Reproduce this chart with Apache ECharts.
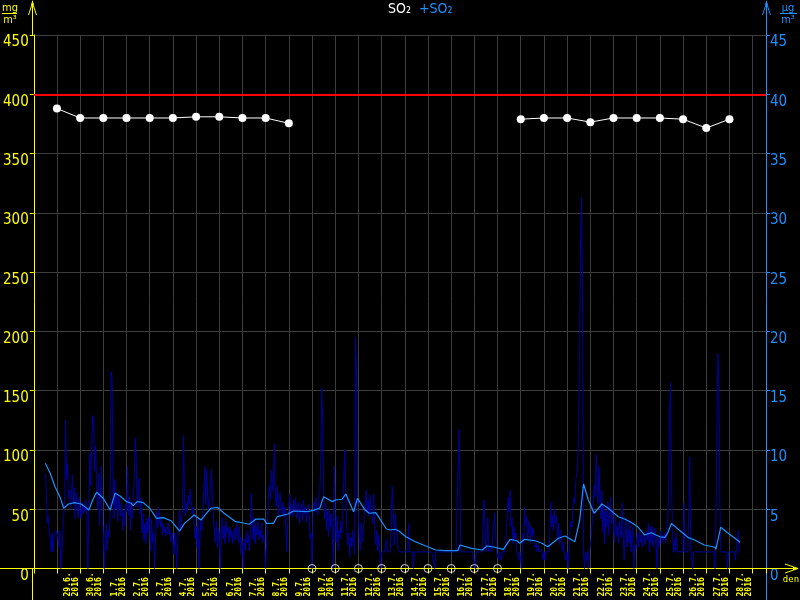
<!DOCTYPE html>
<html><head><meta charset="utf-8">
<script src="https://cdn.jsdelivr.net/npm/echarts@6/dist/echarts.min.js"></script>
<style>html,body{margin:0;padding:0;background:#000}#c{width:800px;height:600px}</style>
</head><body><div id="c"></div>
<script>
// ---- data ----
const dayLabels = ['29.6.','30.6.','1.7.','2.7.','3.7.','4.7.','5.7.','6.7.','7.7.','8.7.','9.7.','10.7.','11.7.','12.7.','13.7.','14.7.','15.7.','16.7.','17.7.','18.7.','19.7.','20.7.','21.7.','22.7.','23.7.','24.7.','25.7.','26.7.','27.7.','28.7.'];
const yearLabel = '2016';
const leftTicks = [0, 450, 50];   // min, max, step (mg/m3)
const rightTicks = [0, 45, 5];    // min, max, step (µg/m3)
const limitValue = 400;

// daily means (left axis), index = day tick; null = missing day
const dailyMeans = [388,380,380,380,380,380,381,381,380,380,375.5,
  null,null,null,null,null,null,null,null,null,
  379,380,380,376.5,380,380,380,379,371.5,379];
const missingDays = [11,12,13,14,15,16,17,18,19];

// hourly SO2 (right axis), first value at hour -12
const hourlyStart = -12;
const hourlySO2 = [
 8.0,6.5,3.8,4.5,3.0,2.5,1.4,3.0,1.4,2.8,3.0,3.2,
 3.0,2.6,1.8,3.2,0.0,1.4,2.8,4.5,6.2,12.5,7.5,8.8,6.0,6.6,5.0,6.2,7.9,5.5,6.8,4.2,6.4,5.0,4.3,6.0,
 5.0,4.2,5.6,4.6,5.2,4.8,5.8,4.4,0.0,4.8,9.7,7.0,10.5,12.9,12.7,8.2,10.3,7.5,5.0,8.0,3.6,6.2,8.6,4.0,
 3.0,0.0,2.2,3.8,1.5,3.2,2.6,4.5,16.6,16.0,9.0,4.2,7.5,5.0,6.4,4.0,6.1,5.2,4.4,5.5,3.2,4.8,3.6,5.4,
 4.8,8.6,4.5,6.0,3.2,5.6,4.2,6.4,7.2,11.0,9.5,5.2,6.8,7.6,4.6,6.0,3.0,4.6,2.4,3.8,2.1,4.2,3.0,4.5,
 3.6,1.5,4.2,2.2,3.0,0.0,2.5,4.8,3.4,5.2,4.0,3.5,4.4,2.8,3.8,3.0,3.5,2.7,3.2,3.8,2.9,3.3,2.2,3.0,
 2.5,1.2,3.0,1.8,0.0,2.2,3.8,4.9,3.2,4.4,5.0,11.2,6.0,4.4,5.5,4.8,6.2,5.4,6.7,5.8,4.6,5.2,3.8,2.5,
 3.5,1.8,4.2,0.0,2.6,4.0,3.2,5.0,6.5,8.6,5.4,8.3,6.0,4.8,5.6,7.0,8.4,5.6,4.2,3.0,2.2,4.0,1.8,3.4,
 3.0,0.0,2.8,4.3,2.5,3.6,2.1,4.0,3.0,3.4,2.2,3.5,2.6,3.2,2.1,2.8,3.4,2.4,3.8,2.9,2.2,3.5,1.2,2.6,
 2.0,0.0,2.5,1.6,3.2,2.2,2.8,1.5,3.0,6.3,3.8,2.4,4.3,2.1,3.5,2.8,4.0,2.4,3.2,2.6,3.8,2.2,2.8,1.6,
 0.0,2.2,4.0,6.2,7.0,5.8,8.3,6.5,7.2,10.5,6.0,5.2,6.9,4.4,5.8,6.4,5.0,4.6,5.6,4.4,5.2,3.0,1.4,4.2,
 5.2,6.2,4.5,5.4,4.4,5.8,4.8,6.0,4.2,5.0,5.6,3.8,4.8,5.4,4.0,5.8,4.6,5.2,3.9,4.8,5.4,4.2,2.5,3.0,
 0.0,4.4,5.6,4.8,6.0,5.0,4.5,5.8,6.4,9.0,15.2,12.7,6.5,4.2,5.5,3.2,4.8,2.7,5.0,3.5,4.6,3.0,0.0,8.6,
 4.0,2.2,4.4,1.5,3.2,2.5,4.0,3.0,5.5,8.0,10.0,6.5,3.2,2.0,3.0,1.0,2.6,1.8,3.2,2.4,1.2,19.5,17.0,6.0,
 4.4,2.5,1.5,3.8,2.2,3.0,4.4,5.6,6.6,4.8,5.8,4.4,6.2,5.0,4.6,3.8,6.3,3.0,2.0,3.2,1.5,2.8,1.8,0.0,
 1.4,1.4,1.4,1.4,1.4,2.5,1.4,1.4,1.4,1.4,4.0,7.0,5.5,2.0,4.6,3.5,3.2,1.8,1.4,1.4,1.4,1.4,1.4,1.4,
 1.4,1.4,1.4,1.4,3.8,1.4,1.4,1.4,1.4,0.0,1.4,1.4,1.4,1.4,1.4,1.4,1.4,1.4,1.4,1.4,1.4,1.4,1.4,1.4,
 1.4,1.4,1.4,1.4,1.4,1.4,1.4,0.0,1.4,1.4,1.4,1.4,1.4,1.4,1.4,1.4,1.4,1.4,1.4,1.4,1.4,1.4,1.4,1.4,
 1.4,1.4,1.4,1.4,1.4,1.4,1.4,1.4,11.7,7.5,1.4,1.4,1.4,1.4,1.4,1.4,1.4,1.4,1.4,1.4,1.4,1.4,1.4,1.4,
 1.4,0.0,1.4,1.4,1.4,1.4,1.4,1.4,1.4,3.5,5.8,3.0,1.4,2.2,4.3,1.4,1.4,2.0,1.4,1.4,1.4,4.7,3.2,1.4,
 1.4,0.7,1.4,1.4,0.7,1.4,1.4,1.4,1.4,3.2,4.5,6.0,4.8,6.6,3.5,4.3,2.1,3.5,2.5,3.0,1.4,1.4,0.7,1.4,
 1.4,0.0,3.0,2.2,5.2,3.6,4.4,2.5,3.2,4.0,2.1,3.6,2.8,3.4,2.2,1.8,2.1,1.4,2.0,1.4,1.4,1.6,1.4,0.7,
 1.4,0.7,1.4,1.4,1.4,1.4,2.8,5.6,3.5,4.5,3.2,5.0,3.8,4.4,2.5,3.8,2.1,3.2,2.6,1.4,2.2,1.4,1.4,0.7,
 1.4,0.0,1.4,3.2,4.0,3.5,5.0,6.0,5.5,7.5,8.0,9.0,12.0,19.5,28.0,31.3,21.5,1.4,0.0,1.4,0.7,1.4,0.0,1.4,
 1.4,2.5,4.0,5.5,7.0,6.0,9.6,7.6,5.5,8.6,6.0,4.2,6.6,3.0,5.2,2.1,4.8,3.5,5.6,2.8,4.5,6.0,3.8,5.0,
 3.5,2.2,4.3,2.8,3.6,2.1,4.0,3.2,2.6,5.5,3.0,0.7,2.5,4.3,1.8,3.2,2.2,4.0,1.4,2.8,3.5,0.0,2.0,1.6,
 2.4,3.0,1.8,3.2,2.2,2.8,1.8,3.0,2.5,2.0,3.2,2.4,3.8,1.4,3.5,2.2,3.6,1.8,2.6,3.4,2.0,0.0,2.6,1.8,
 2.6,3.2,2.1,2.8,2.4,3.0,2.2,3.2,4.0,6.0,13.0,15.7,8.0,3.2,1.4,2.5,1.4,3.0,1.4,1.4,1.4,1.4,1.4,1.4,
 1.4,5.5,1.4,1.4,1.4,1.4,1.4,9.4,1.4,1.4,0.0,1.4,1.4,1.4,1.4,1.4,1.4,1.4,1.4,1.4,1.4,1.4,1.4,1.4,
 1.4,1.4,1.4,1.4,1.4,1.4,1.4,1.4,1.4,0.0,4.0,11.7,18.1,15.7,6.0,1.4,1.4,1.4,1.4,1.4,1.4,1.4,0.0,1.4,
 1.4,1.4,1.4,1.4,1.4,1.4,0.7,1.4,1.4,3.2,1.4,1.4
];

// smoothed SO2 (right axis)
const avgHours = [-12,-7,-2,3,7,12,18,25,29,33,37,41,48,55,60,65,72,77,79,83,89,96,103,110,118,127,132,142,149,159,166,173,185,192,199,206,214,217,224,228,239,245,259,266,272,276,285,288,295,299,307,311,319,323,330,341,345,350,354,361,371,385,392,402,415,417,429,440,445,453,462,469,476,479,484,495,502,508,519,526,536,541,545,550,556,564,570,576,581,588,595,601,608,615,624,629,632,636,643,653,660,670,681,682,687,694,705,707];
const avgValues = [8.87,8.03,6.9,6.06,5.08,5.44,5.55,5.44,5.2,4.93,5.78,6.43,5.92,4.93,6.34,6.14,5.64,5.5,5.3,5.64,5.58,5.08,4.23,4.29,4.03,3.16,3.81,4.51,4.09,5.08,5.16,4.66,3.95,3.86,3.73,4.17,4.17,3.81,3.81,4.37,4.6,4.85,4.79,4.93,5.08,6.06,5.64,5.78,5.84,6.28,4.79,5.92,4.93,4.66,4.71,3.33,3.25,3.31,3.16,2.68,2.26,1.79,1.56,1.5,1.5,1.98,1.7,1.56,1.9,1.79,1.62,2.46,2.34,2.13,2.46,2.34,2.13,1.84,2.55,2.74,2.26,4.09,7.13,5.78,4.66,5.44,5.13,4.71,4.37,4.15,3.86,3.53,2.83,3.02,2.68,2.63,2.97,3.81,3.31,2.63,2.4,1.98,1.79,1.62,3.48,3.02,2.34,2.18];

// ---- chart ----
const YEL = '#ffff00', BLUE = '#1e90ff', GRID = '#3c3c3c';
const NARROW = "'Liberation Sans Narrow','DejaVu Sans Condensed',sans-serif";
const HPD = 24;
const xMin = -HPD, xMax = 30.576 * HPD;

const darkData = hourlySO2.map((v, k) => [hourlyStart + k, v]);
const avgData = avgHours.slice(0, Math.min(avgHours.length, avgValues.length)).map((h, k) => [h, avgValues[k]]);
const dailyData = dailyMeans.map((v, i) => [i * HPD, v == null ? '-' : v]);
const missData = missingDays.map(i => [i * HPD, 0]);

const chart = echarts.init(document.getElementById('c'), null, {renderer: 'canvas'});
const ax = 32.5, bx = 766.5, y0 = 568.5;
chart.setOption({
  backgroundColor: '#000',
  animation: false,
  grid: {left: 32, right: 34, top: 35, bottom: 31.5},
  xAxis: {
    type: 'value', min: xMin, max: xMax, interval: HPD,
    axisLine: {show: true, onZero: false, lineStyle: {color: YEL, width: 1}},
    axisTick: {show: true, length: 5, lineStyle: {color: YEL}},
    splitLine: {show: true, lineStyle: {color: GRID, width: 1}},
    axisLabel: {
      rotate: 90, align: 'left', verticalAlign: 'bottom', margin: 28,
      fontSize: 8, lineHeight: 8, fontWeight: 'bold', color: YEL,
      fontFamily: 'DejaVu Sans Mono', showMinLabel: true, showMaxLabel: true,
      formatter: v => {
        const i = Math.round(v / HPD);
        if (Math.abs(v - i * HPD) > 0.01) return '';
        return (i >= 1 && i <= dayLabels.length) ? dayLabels[i - 1] + '\n' + yearLabel : '';
      }
    }
  },
  yAxis: [
    {type: 'value', position: 'left', min: leftTicks[0], max: leftTicks[1], interval: leftTicks[2],
     axisLine: {show: true, onZero: false, lineStyle: {color: YEL}},
     axisTick: {show: true, length: 4, lineStyle: {color: YEL}},
     axisLabel: {color: YEL, fontSize: 15, margin: 5, verticalAlign: 'top', fontFamily: NARROW},
     splitLine: {show: true, lineStyle: {color: GRID, width: 1}}},
    {type: 'value', position: 'right', min: rightTicks[0], max: rightTicks[1], interval: rightTicks[2],
     axisLine: {show: true, onZero: false, lineStyle: {color: BLUE}},
     axisTick: {show: true, length: 4, lineStyle: {color: BLUE}},
     axisLabel: {color: BLUE, fontSize: 15, margin: 4, verticalAlign: 'top', fontFamily: NARROW},
     splitLine: {show: false}}
  ],
  series: [
    {name: 'SO2 hourly', type: 'line', yAxisIndex: 1, data: darkData, showSymbol: false, symbol: 'none',
     lineStyle: {color: '#00009c', width: 1}, z: 2},
    {name: '+SO2', type: 'line', yAxisIndex: 1, data: avgData, showSymbol: false, symbol: 'none',
     lineStyle: {color: BLUE, width: 1.2}, z: 3},
    {name: 'SO2', type: 'line', yAxisIndex: 0, data: dailyData, symbol: 'circle', symbolSize: 8,
     itemStyle: {color: '#fff'}, lineStyle: {color: '#fff', width: 1}, z: 5,
     markLine: {silent: true, symbol: ['none', 'none'], label: {show: false},
       lineStyle: {color: '#ff0000', width: 2, type: 'solid'}, data: [{yAxis: limitValue}]}},
    {name: 'missing', type: 'scatter', yAxisIndex: 0, data: missData, symbol: 'circle', symbolSize: 8, clip: false,
     itemStyle: {color: 'rgba(0,0,0,0)', borderColor: '#fff', borderWidth: 1}, z: 6}
  ],
  graphic: [
    // axis extensions
    {type: 'line', shape: {x1: ax, y1: 2, x2: ax, y2: 35}, style: {stroke: YEL, lineWidth: 1}},
    {type: 'line', shape: {x1: ax, y1: y0, x2: ax, y2: 600}, style: {stroke: YEL, lineWidth: 1}},
    {type: 'line', shape: {x1: bx, y1: 2, x2: bx, y2: 35}, style: {stroke: BLUE, lineWidth: 1}},
    {type: 'line', shape: {x1: bx, y1: y0, x2: bx, y2: 600}, style: {stroke: BLUE, lineWidth: 1}},
    {type: 'line', shape: {x1: 0, y1: y0, x2: ax, y2: y0}, style: {stroke: YEL, lineWidth: 1}, z: 10},
    {type: 'line', shape: {x1: bx - 1, y1: y0, x2: 797, y2: y0}, style: {stroke: YEL, lineWidth: 1}, z: 10},
    // arrows
    {type: 'polyline', shape: {points: [[ax - 4, 15], [ax, 3], [ax + 4, 15]]}, style: {stroke: YEL, fill: null, lineWidth: 1}},
    {type: 'polygon', shape: {points: [[ax - 1.5, 5], [ax, 0], [ax + 1.5, 5]]}, style: {fill: YEL}},
    {type: 'polyline', shape: {points: [[bx - 4, 15], [bx, 3], [bx + 4, 15]]}, style: {stroke: BLUE, fill: null, lineWidth: 1}},
    {type: 'polygon', shape: {points: [[bx - 1.5, 5], [bx, 0], [bx + 1.5, 5]]}, style: {fill: BLUE}},
    {type: 'polyline', shape: {points: [[785, y0 - 4.5], [798, y0], [785, y0 + 4.5]]}, style: {stroke: YEL, fill: null, lineWidth: 1}, z: 10},
    {type: 'polygon', shape: {points: [[793, y0 - 1.5], [799, y0], [793, y0 + 1.5]]}, style: {fill: YEL}, z: 10},
    // units
    {type: 'text', style: {text: 'mg', x: 10, y: 8.5, align: 'center', verticalAlign: 'middle', fill: YEL, font: '11px ' + NARROW}},
    {type: 'line', shape: {x1: 2, y1: 13.5, x2: 17, y2: 13.5}, style: {stroke: YEL, lineWidth: 1}},
    {type: 'text', style: {text: 'm³', x: 10, y: 20, align: 'center', verticalAlign: 'middle', fill: YEL, font: '11px ' + NARROW}},
    {type: 'text', style: {text: 'µg', x: 788, y: 8.5, align: 'center', verticalAlign: 'middle', fill: BLUE, font: '11px ' + NARROW}},
    {type: 'line', shape: {x1: 780, y1: 13.5, x2: 797, y2: 13.5}, style: {stroke: BLUE, lineWidth: 1}},
    {type: 'text', style: {text: 'm³', x: 788, y: 20, align: 'center', verticalAlign: 'middle', fill: BLUE, font: '11px ' + NARROW}},
    {type: 'text', style: {text: 'den', x: 791, y: 580, align: 'center', verticalAlign: 'middle', fill: YEL, font: '9px DejaVu Sans Mono'}},
    // title
    {type: 'text', style: {text: 'SO₂', x: 388, y: 9, align: 'left', verticalAlign: 'middle', fill: '#ffffff', font: "14px " + NARROW}},
    {type: 'text', style: {text: '+SO₂', x: 419, y: 9, align: 'left', verticalAlign: 'middle', fill: BLUE, font: "14px " + NARROW}}
  ]
});
</script></body></html>
